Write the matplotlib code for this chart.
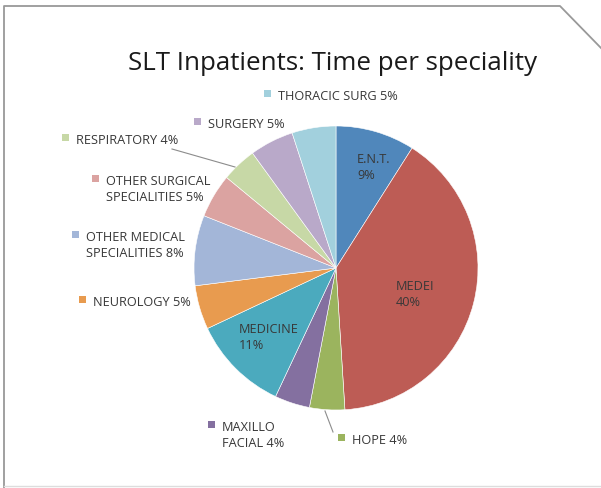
import matplotlib
matplotlib.use("Agg")
import matplotlib.pyplot as plt
from matplotlib.lines import Line2D
from matplotlib.patches import Rectangle

W, H = 601, 488

specialities = ["E.N.T.", "MEDEI", "HOPE", "MAXILLO\nFACIAL", "MEDICINE", "NEUROLOGY",
                "OTHER MEDICAL\nSPECIALITIES", "OTHER SURGICAL\nSPECIALITIES",
                "RESPIRATORY", "SURGERY", "THORACIC SURG"]
shares = [9, 40, 4, 4, 11, 5, 8, 5, 4, 5, 5]
colors = ["#5087bb", "#bd5c55", "#9bb45e", "#8470a0", "#4baabe", "#e89b4f",
          "#a3b6d8", "#dba3a1", "#c7d8a6", "#b9a9c9", "#a2d0dd"]

plt.rcParams["font.family"] = ["Open Sans", "DejaVu Sans"]
TXT = "#383838"
FS = 9.2
LINE = 16.5  # pixel distance between label lines

fig = plt.figure(figsize=(W / 100, H / 100), dpi=100)
fig.patch.set_facecolor("white")

# pie geometry in pixels
cx, cy, r = 336, 268, 142
ax = fig.add_axes([(cx - r) / W, (H - cy - r) / H, 2 * r / W, 2 * r / H])
ax.pie(shares, colors=colors, startangle=90, counterclock=False, radius=1,
       wedgeprops=dict(edgecolor="white", linewidth=0.4))
ax.set_xlim(-1, 1)
ax.set_ylim(-1, 1)
ax.set_aspect("equal")
ax.axis("off")


def d(px, py):
    """pixel position -> pie data coordinates"""
    return (px - cx) / r, (cy - py) / r


def label(i, px, py, key=True):
    """px: left of text, py: centre of first text line (pixels)"""
    if key:
        text = f"{specialities[i]} {shares[i]}%"
    else:
        text = f"{specialities[i]}\n{shares[i]}%"
    n = text.count("\n") + 1
    x, y = d(px, py + (n - 1) * LINE / 2)
    ax.text(x, y, text, fontsize=FS, color=TXT, ha="left", va="center",
            linespacing=LINE / (FS * 100 / 72), clip_on=False)
    if key:
        sx, sy = d(px - 14, py + 1)
        ax.add_patch(Rectangle((sx, sy), 7 / r, 7 / r, color=colors[i],
                               clip_on=False, linewidth=0))


# labels inside slices
label(0, 357, 159, key=False)
label(1, 396, 286, key=False)
label(4, 239, 329, key=False)

# labels outside with colour keys
label(10, 278, 96)
label(9, 208, 124)
label(8, 76, 140)
label(7, 106, 181)
label(6, 86, 237)
label(5, 93, 302)
label(3, 222, 427)
label(2, 352, 440)

# leader lines
for (x0, y0), (x1, y1) in [((172, 149), (235, 167)), ((325, 411), (333, 432))]:
    a, b = d(x0, y0)
    c, e = d(x1, y1)
    ax.plot([a, c], [b, e], color="#8c8c8c", linewidth=0.8, clip_on=False)

fig.text(333 / W, 1 - 63 / H, "SLT Inpatients: Time per speciality",
         fontsize=18.6, color="#1a1a1a", ha="center", va="center")


# chart frame with clipped corner
def fx(px):
    return px / W


def fy(py):
    return 1 - py / H


fig.add_artist(Line2D([fx(4), fx(4), fx(560), fx(601)],
                      [fy(488), fy(6), fy(6), fy(48)],
                      color="#999999", linewidth=1.3))
fig.add_artist(Line2D([fx(4), fx(601)], [fy(486), fy(486)],
                      color="#dddddd", linewidth=1.0))

fig.savefig("out.png", dpi=100, facecolor="white")
